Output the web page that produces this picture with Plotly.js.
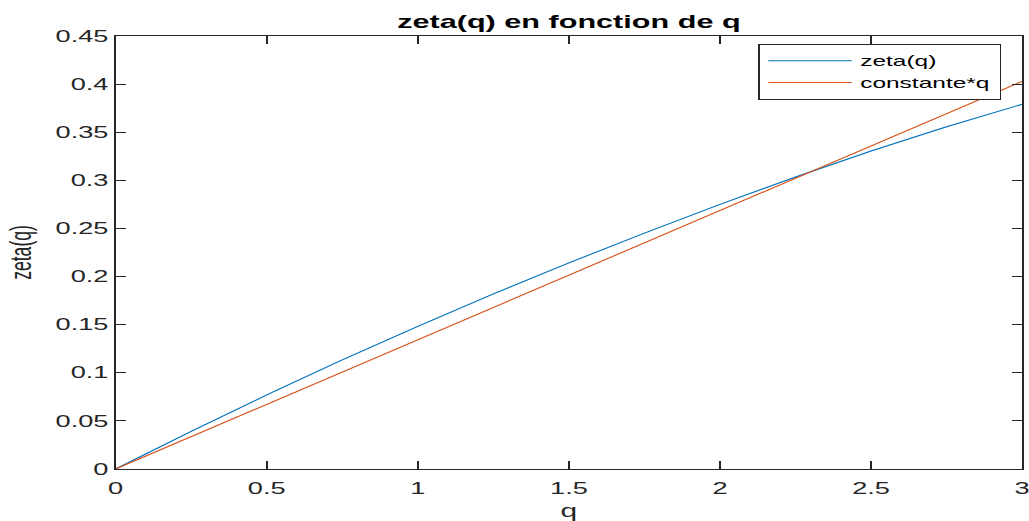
<!DOCTYPE html>
<html>
<head>
<meta charset="utf-8">
<script src="https://cdn.plot.ly/plotly-3.0.1.min.js"></script>
<style>
  html, body { margin: 0; padding: 0; background: #fff; overflow: hidden; }
  /* The figure is laid out narrow and widened horizontally, giving the
     wide lettering and heavier vertical strokes of the exported figure. */
  #chart {
    width: 605px;
    height: 521px;
    transform: scaleX(1.7008);
    transform-origin: 0 0;
  }
</style>
</head>
<body>
<div id="chart"></div>
<script>
// Sample points in q
const q = [0, 0.25, 0.5, 0.75, 1, 1.25, 1.5, 1.75, 2, 2.25, 2.5, 2.75, 3];
// Scaling exponents zeta(q)
const zeta = [0, 0.0391, 0.0770, 0.1133, 0.1483, 0.1819, 0.2142, 0.2452, 0.2750, 0.3035, 0.3305, 0.3557, 0.3790];
// Linear reference constante*q
const constQ = [0, 0.0336, 0.0672, 0.1007, 0.1343, 0.1679, 0.2015, 0.2350, 0.2686, 0.3022, 0.3358, 0.3693, 0.4029];

const xTicks = [0, 0.5, 1, 1.5, 2, 2.5, 3];
const xTickText = ['0', '0.5', '1', '1.5', '2', '2.5', '3'];
const yTicks = [0, 0.05, 0.1, 0.15, 0.2, 0.25, 0.3, 0.35, 0.4, 0.45];
const yTickText = ['0', '0.05', '0.1', '0.15', '0.2', '0.25', '0.3', '0.35', '0.4', '0.45'];

const axisColor = '#262626';
const fontFamily = '"Liberation Sans", Arial, Helvetica, sans-serif';

const traces = [
  { x: q, y: zeta, mode: 'lines', name: 'zeta(q)', line: { color: '#0072BD', width: 1 } },
  { x: q, y: constQ, mode: 'lines', name: 'constante*q', line: { color: '#D95319', width: 1 } }
];

const axisCommon = {
  showgrid: false,
  zeroline: false,
  showline: true,
  mirror: 'allticks',
  linecolor: axisColor,
  linewidth: 1,
  ticks: 'inside',
  tickwidth: 1,
  tickcolor: axisColor,
  ticklabeloverflow: 'allow',
  tickfont: { family: fontFamily, size: 16, color: axisColor }
};

const layout = {
  width: 605,
  height: 521,
  margin: { l: 67.6, r: 3.5, t: 36, b: 52 },
  paper_bgcolor: '#fff',
  plot_bgcolor: '#fff',
  title: {
    text: '<b>zeta(q) en fonction de q</b>',
    font: { family: fontFamily, size: 18, color: '#000' },
    x: 0.5, xref: 'paper', xanchor: 'center',
    y: 1 - 22 / 521, yref: 'container', yanchor: 'middle'
  },
  xaxis: Object.assign({}, axisCommon, {
    range: [0, 3],
    ticklen: 8,
    ticklabelstandoff: 5,
    tickvals: xTicks,
    ticktext: xTickText,
    title: { text: 'q', font: { family: fontFamily, size: 17.6, color: axisColor }, standoff: 8 }
  }),
  yaxis: Object.assign({}, axisCommon, {
    range: [0, 0.45],
    ticklen: 6,
    tickvals: yTicks,
    ticktext: yTickText,
    title: { text: 'zeta(q)', font: { family: fontFamily, size: 17.6, color: axisColor }, standoff: 9 }
  }),
  showlegend: true,
  legend: {
    x: 0.977, y: 0.9815, xanchor: 'right', yanchor: 'top',
    bgcolor: '#fff',
    bordercolor: axisColor,
    borderwidth: 1,
    itemwidth: 49,
    tracegroupgap: 0,
    font: { family: fontFamily, size: 14.4, color: '#000' }
  }
};

Plotly.newPlot('chart', traces, layout, { displayModeBar: false, staticPlot: true });
</script>
</body>
</html>
